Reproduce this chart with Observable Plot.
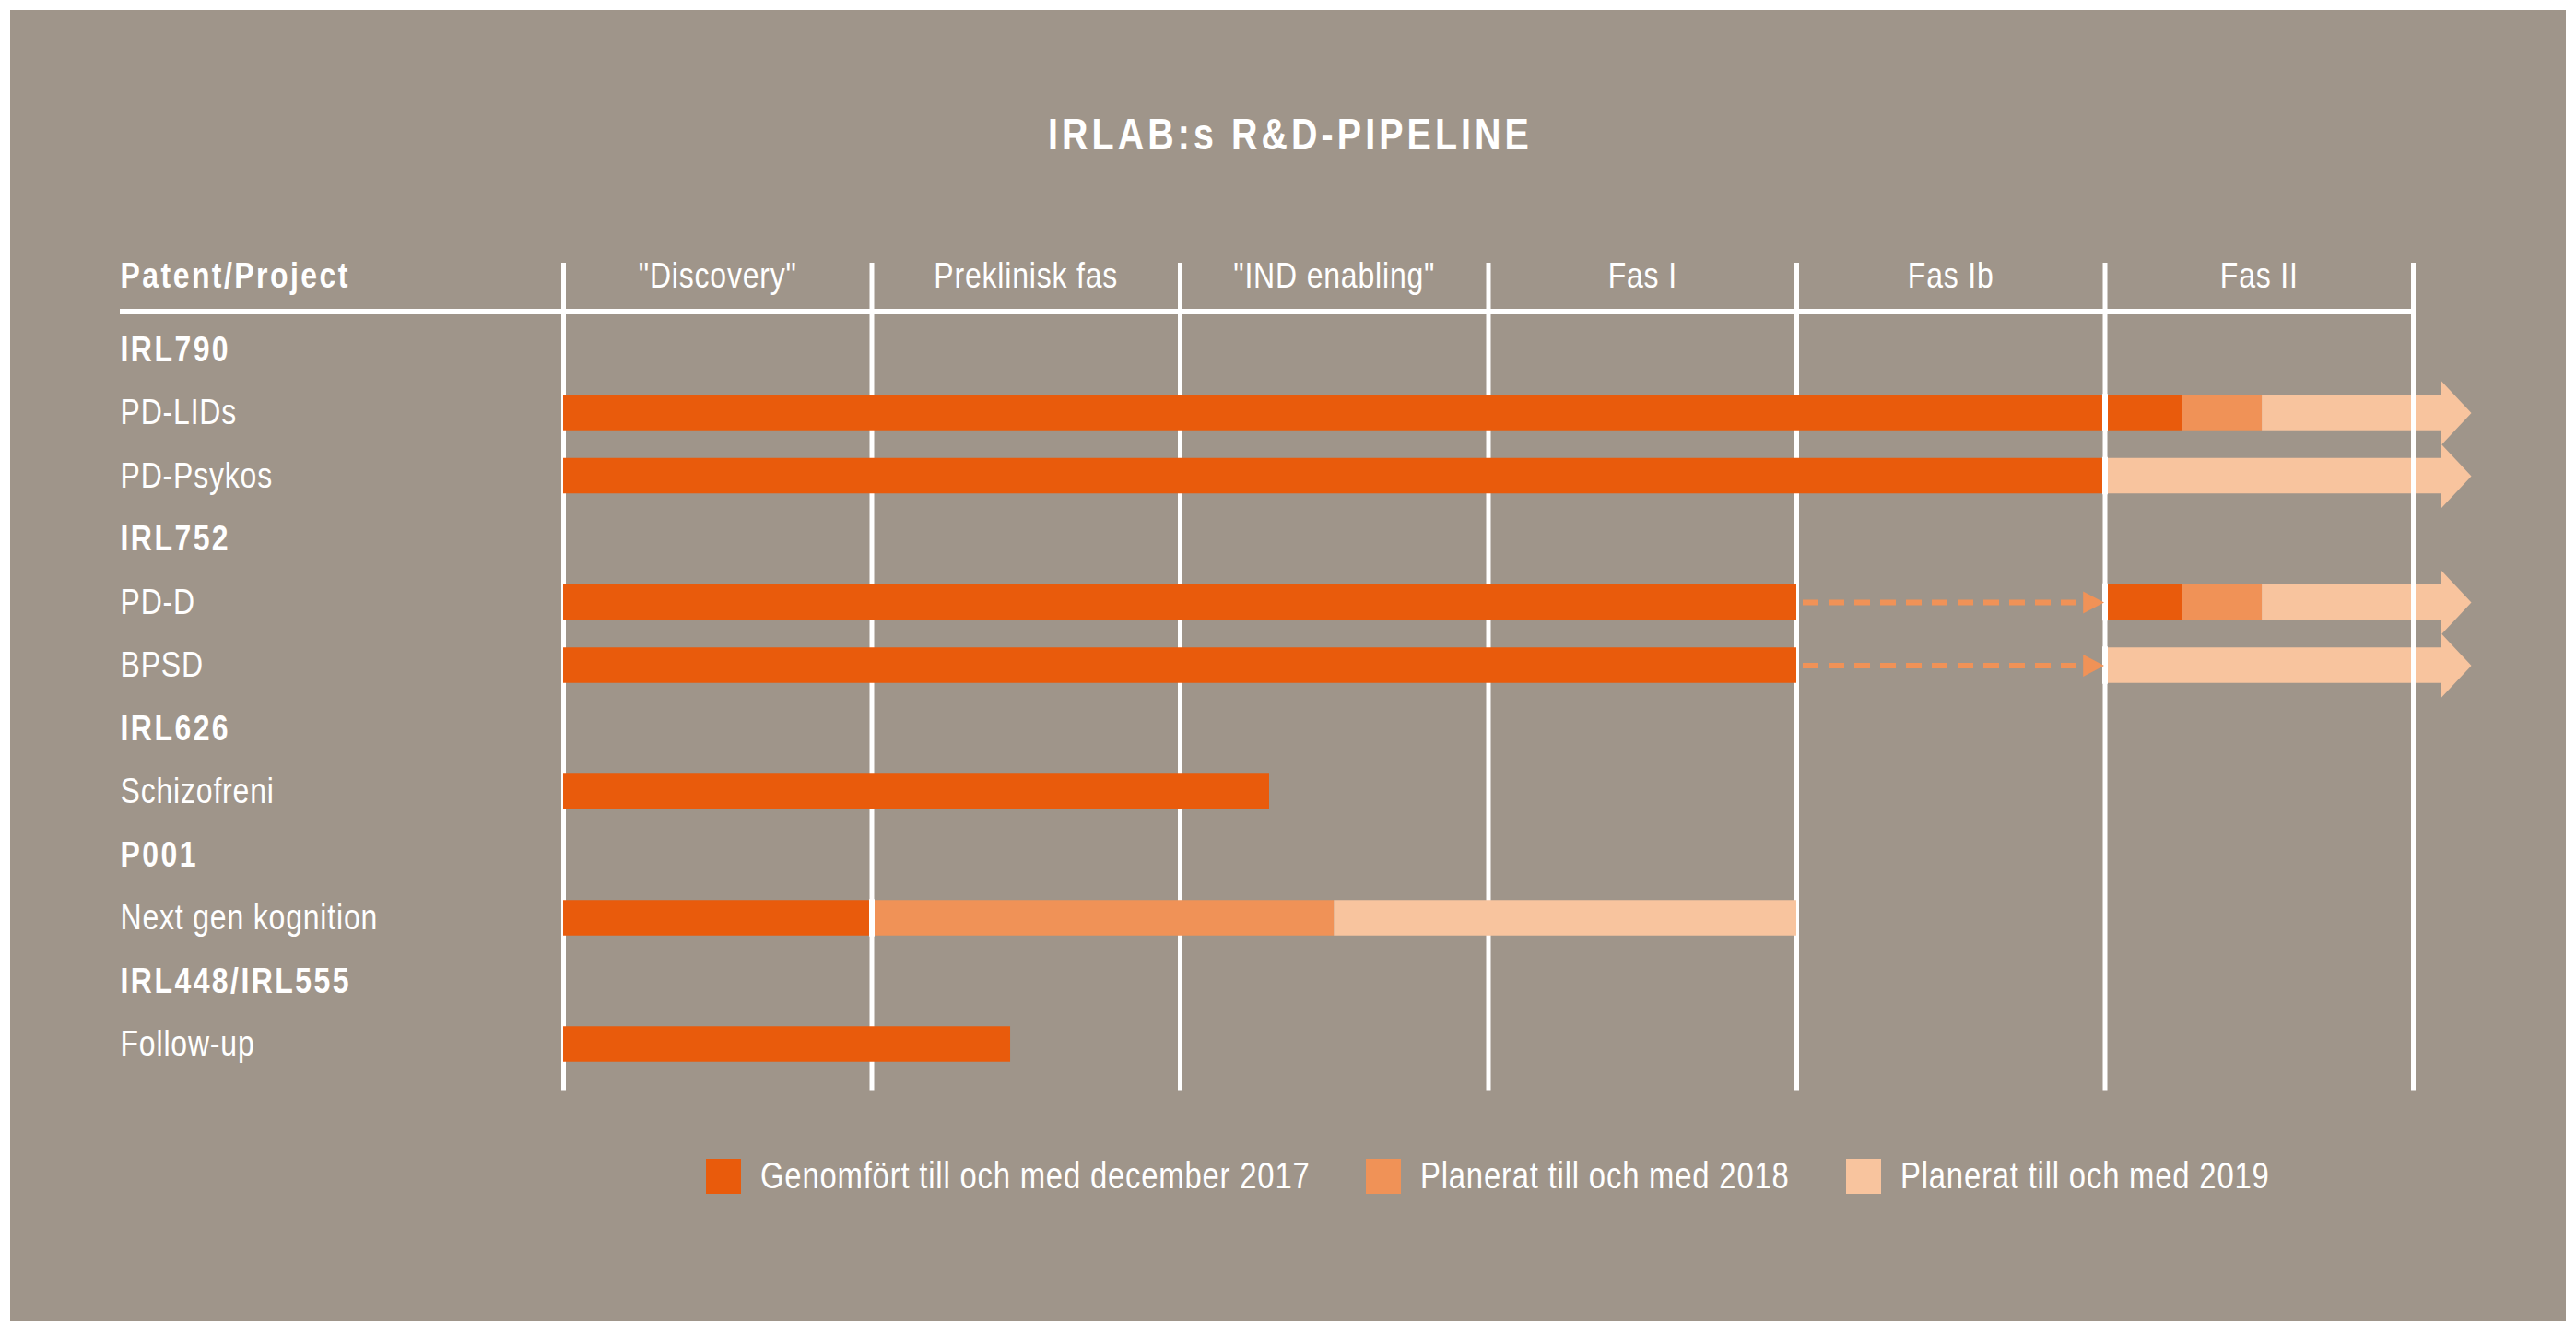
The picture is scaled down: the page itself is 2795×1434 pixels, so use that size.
<!DOCTYPE html>
<html>
<head>
<meta charset="utf-8">
<script src="https://cdn.jsdelivr.net/npm/d3@7"></script>
<script src="https://cdn.jsdelivr.net/npm/@observablehq/plot@0.6"></script>
<style>
html, body { margin: 0; padding: 0; background: #ffffff; }
body { width: 2795px; height: 1434px; position: relative; overflow: hidden;
  font-family: "Liberation Sans", Arial, sans-serif; color: #ffffff; }
#bg { position: absolute; left: 11px; top: 11px; width: 2773px; height: 1422px; background: #9f958a; }
#title { position: absolute; left: 0; top: 122px; width: 2795px; box-sizing: border-box; padding-left: 5px;
  text-align: center; font-size: 48px; line-height: 48px; font-weight: bold; letter-spacing: 5px; color: #ffffff;
  transform: scaleX(0.82); transform-origin: 1400px 50%; white-space: nowrap; }
#chart { position: absolute; left: 0; top: 200px; }
#chart svg text { letter-spacing: 1px; }
#chart svg g[font-weight="bold"] text { letter-spacing: 3px; }
#legend { position: absolute; left: 766px; top: 1253px; }
#legend > div { margin: 0 !important; min-height: 38px !important; display: flex !important; flex-wrap: nowrap !important;
  align-items: center !important; font-family: "Liberation Sans", Arial, sans-serif !important;
  font-size: 40px !important; letter-spacing: 1px; color: #ffffff !important; }
#legend > div > span { margin: 0 !important; flex: none; display: inline-flex; align-items: center; white-space: nowrap; }
#legend > div > span:nth-of-type(1) { width: 716px; }
#legend > div > span:nth-of-type(2) { width: 521px; }
#legend > div > span > svg { margin-right: 21px !important; }
#legend .lt { display: inline-block; transform: scaleX(0.82); transform-origin: 0 50%; white-space: nowrap; }
</style>
</head>
<body>
<div id="bg"></div>
<div id="title">IRLAB:s R&amp;D-PIPELINE</div>
<div id="chart"></div>
<div id="legend"></div>
<script>
// ---- Data ----
const headerLabel = "Patent/Project";
const phases = ['"Discovery"', "Preklinisk fas", '"IND enabling"', "Fas I", "Fas Ib", "Fas II"];
const rows = ["IRL790", "PD-LIDs", "PD-Psykos", "IRL752", "PD-D", "BPSD", "IRL626", "Schizofreni",
  "P001", "Next gen kognition", "IRL448/IRL555", "Follow-up"];
const groupRows = ["IRL790", "IRL752", "IRL626", "P001", "IRL448/IRL555"];
const statuses = ["Genomfört till och med december 2017", "Planerat till och med 2018", "Planerat till och med 2019"];
const statusColors = ["#e95b0c", "#f09257", "#f8c49e"];

// progress segments (in phase units: 0 = start of "Discovery", 6 = end of Fas II)
const segRow    = ["PD-LIDs", "PD-LIDs", "PD-LIDs", "PD-LIDs", "PD-Psykos", "PD-Psykos",
                   "PD-D", "PD-D", "PD-D", "PD-D", "BPSD", "BPSD", "Schizofreni",
                   "Next gen kognition", "Next gen kognition", "Next gen kognition", "Follow-up"];
const segStart  = [0, 5, 5.25, 5.51, 0, 5, 0, 5, 5.25, 5.51, 0, 5, 0, 0, 1, 2.5, 0];
const segEnd    = [5, 5.25, 5.51, 6.09, 5, 6.09, 4, 5.25, 5.51, 6.09, 4, 6.09, 2.29, 1, 2.5, 4, 1.45];
const segStatus = [0, 0, 1, 2, 0, 2, 0, 0, 1, 2, 0, 2, 0, 0, 1, 2, 0];

// dashed "jump" arrows
const jumpRow  = ["PD-D", "BPSD"];
const jumpFrom = [4, 4];
const jumpTo   = [5, 5];

// ---- Build tables ----
const idx = (r) => rows.indexOf(r);
const segments = segRow.map((r, k) => ({row: r, i: idx(r), start: segStart[k], end: segEnd[k], status: statuses[segStatus[k]]}));
const jumps = jumpRow.map((r, k) => ({row: r, i: idx(r), from: jumpFrom[k], to: jumpTo[k]}));

const W = "#ffffff";
const font = '"Liberation Sans", Arial, sans-serif';
const SX = 0.82; // horizontal condensing of the type

// custom arrow-head symbols
const bigHead = {draw(ctx, size) { const r = Math.sqrt(size / Math.PI);
  ctx.moveTo(0, -r); ctx.lineTo(r * 0.94, 0); ctx.lineTo(0, r); ctx.closePath(); }};
const smallHead = {draw(ctx, size) { const r = Math.sqrt(size / Math.PI);
  ctx.moveTo(0, 0); ctx.lineTo(-r * 1.9, -r); ctx.lineTo(-r * 1.9, r); ctx.closePath(); }};

const lineTop = -1.372, lineBottom = 11.73, headerY = -1.168, headerRuleY = -0.606;

const chart = Plot.plot({
  width: 2795,
  height: 1010,
  marginLeft: 130,
  marginRight: 177,
  marginTop: 0,
  marginBottom: 0,
  style: {background: "transparent", color: W, fontFamily: font, overflow: "visible"},
  x: {domain: [0, phases.length], range: [611, 2618], axis: null},
  y: {type: "linear", domain: [-2, 12], range: [42, 1001], axis: null},
  color: {domain: statuses, range: statusColors},
  marks: [
    Plot.ruleX(d3.range(phases.length), {y1: lineTop, y2: lineBottom, stroke: W, strokeWidth: 5}),
    Plot.ruleY([headerRuleY], {stroke: W, strokeWidth: 6}),
    Plot.rect(segments, {x1: "start", x2: "end", y1: (d) => d.i - 0.5, y2: (d) => d.i + 0.5,
      insetTop: 15, insetBottom: 15, fill: "status"}),
    Plot.ruleX(segments.filter((d) => d.start > 0 && Number.isInteger(d.start)),
      {x: "start", y1: (d) => d.i - 0.5, y2: (d) => d.i + 0.5, insetTop: 14, insetBottom: 14, stroke: W, strokeWidth: 6}),
    Plot.dot(segments.filter((d) => d.end > phases.length),
      {x: "end", y: "i", r: 35, symbol: bigHead, fill: "status", stroke: "none"}),
    Plot.ruleY(jumps, {y: "i", x1: "from", x2: "to", insetLeft: 7, insetRight: 22,
      stroke: statusColors[1], strokeWidth: 6, strokeDasharray: "17,11"}),
    Plot.dot(jumps, {x: "to", y: "i", r: 12, symbol: smallHead, fill: statusColors[1], stroke: "none", dx: -1}),
    Plot.ruleX([phases.length], {y1: lineTop, y2: lineBottom, stroke: W, strokeWidth: 5}),
    // header texts
    Plot.text([headerLabel], {y: () => headerY, text: (d) => d, frameAnchor: "left", textAnchor: "start",
      fontSize: 39, fontWeight: "bold", fill: W}),
    Plot.text(phases, {x: (d, i) => i + 0.5, y: () => headerY, text: (d) => d, fontSize: 39, fill: W}),
    // row labels
    Plot.text(rows.filter((r) => groupRows.includes(r)), {y: (d) => idx(d), text: (d) => d,
      frameAnchor: "left", textAnchor: "start", fontSize: 39, fontWeight: "bold", fill: W}),
    Plot.text(rows.filter((r) => !groupRows.includes(r)), {y: (d) => idx(d), text: (d) => d,
      frameAnchor: "left", textAnchor: "start", fontSize: 39, fill: W})
  ]
});

// condense the type horizontally (the original uses a condensed face)
chart.querySelectorAll("text").forEach((t) => {
  let tr = t.getAttribute("transform") || "";
  const xa = t.getAttribute("x");
  if (xa != null && !/em$/.test(xa)) { tr += ` translate(${parseFloat(xa) || 0},0)`; t.removeAttribute("x"); }
  t.setAttribute("transform", `${tr} scale(${SX},1)`);
});
document.getElementById("chart").append(chart);

const legend = chart.legend("color", {legend: "swatches", swatchSize: 38});
legend.querySelectorAll(":scope > span").forEach((s) => {
  [...s.childNodes].filter((n) => n.nodeType === 3).forEach((n) => {
    const w = document.createElement("span");
    w.className = "lt";
    w.textContent = n.textContent;
    s.replaceChild(w, n);
  });
});
document.getElementById("legend").append(legend);
</script>
</body>
</html>
